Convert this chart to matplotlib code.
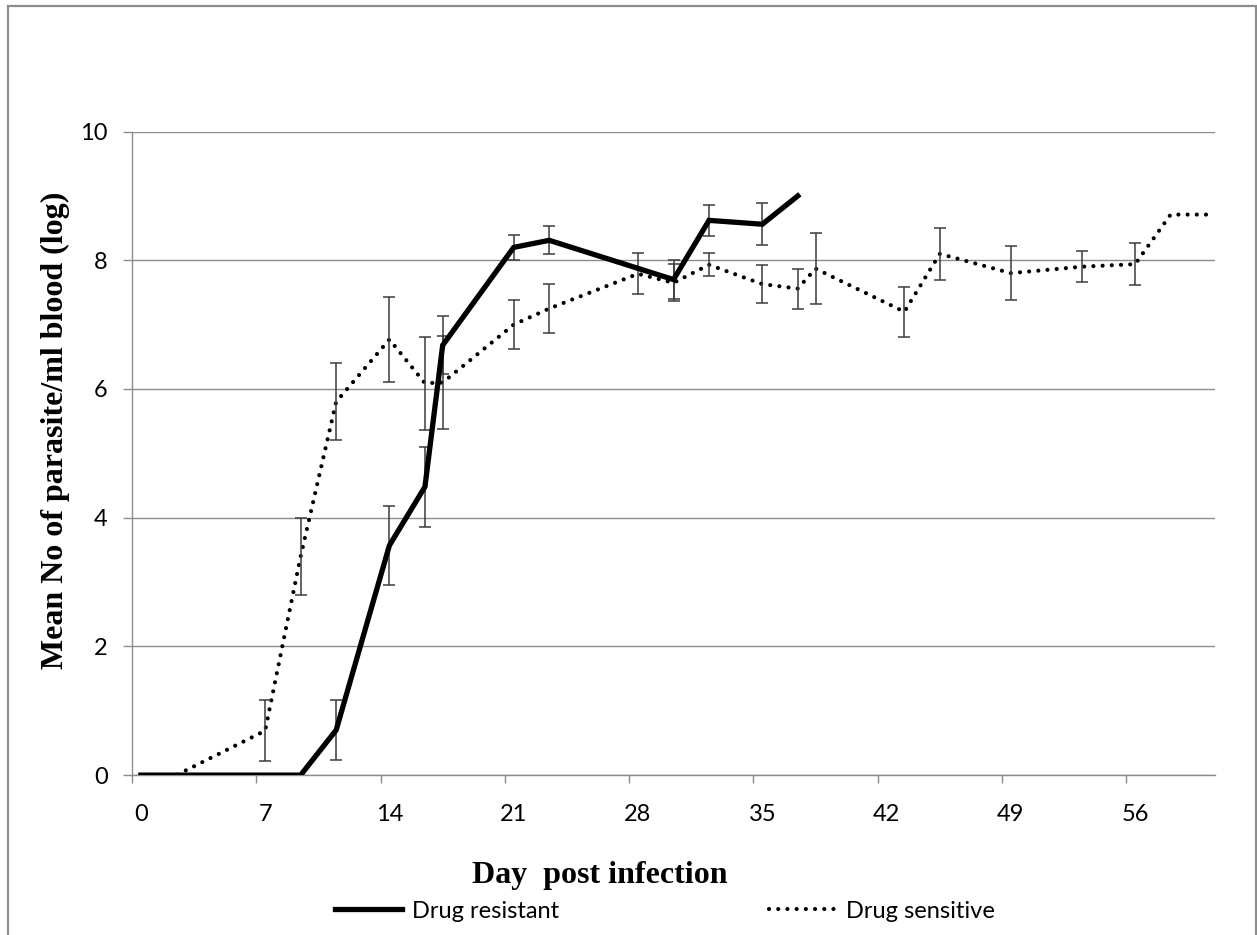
import numpy as np
import matplotlib
matplotlib.use("Agg")
import matplotlib.pyplot as plt
from matplotlib.patches import Rectangle

# Values (log parasites / ml blood)
resistant_days = [0, 9, 11, 14, 16, 17, 21, 23, 30, 32, 35, 37]
resistant_mean = [0, 0, 0.70, 3.57, 4.48, 6.68, 8.20, 8.31, 7.70, 8.62, 8.56, 9.00]
resistant_err = [0, 0, 0.47, 0.61, 0.62, 0.45, 0.19, 0.22, 0.30, 0.24, 0.33, 0]

sensitive_days = [0, 2, 7, 9, 11, 14, 16, 17, 21, 23, 28, 30, 32, 35, 37, 38,
                  43, 45, 49, 53, 56, 58, 60]
sensitive_mean = [0, 0, 0.69, 3.40, 5.80, 6.77, 6.09, 6.10, 7.00, 7.25, 7.79,
                  7.65, 7.93, 7.63, 7.56, 7.87, 7.20, 8.10, 7.80, 7.90, 7.94,
                  8.71, 8.71]
sensitive_err = [0, 0, 0.47, 0.60, 0.60, 0.66, 0.72, 0.72, 0.38, 0.38, 0.32,
                 0.29, 0.18, 0.30, 0.31, 0.55, 0.39, 0.40, 0.42, 0.24, 0.33,
                 0, 0]

day_ticks = [0, 7, 14, 21, 28, 35, 42, 49, 56]
y_ticks = [0, 2, 4, 6, 8, 10]

SANS = ["Lato", "DejaVu Sans"]
SERIF = ["Liberation Serif", "DejaVu Serif"]
GREY = "#8c8c8c"


def draw_errors(ax, days, mean, err, color):
    days = np.array(days)
    mean = np.array(mean)
    err = np.array(err)
    keep = err > 0
    ax.errorbar(days[keep], mean[keep], yerr=err[keep], fmt="none",
                ecolor=color, elinewidth=1.1, capsize=4, capthick=1.1,
                zorder=4)


def main():
    fig = plt.figure(figsize=(12.57, 9.35), dpi=100)
    ax = fig.add_axes([0.1050, 0.1710, 0.8616, 0.6883])

    # sensitive strain: dotted line
    ax.plot(sensitive_days, sensitive_mean, color="black", lw=3.0,
            linestyle=(0, (0.01, 2.2)), dash_capstyle="round",
            label="Drug sensitive", zorder=3)
    # resistant strain: thick solid line
    ax.plot(resistant_days, resistant_mean, color="black", lw=3.8,
            solid_joinstyle="miter", label="Drug resistant", zorder=5)

    draw_errors(ax, sensitive_days, sensitive_mean, sensitive_err, "#3c3c3c")
    draw_errors(ax, resistant_days, resistant_mean, resistant_err, "#3c3c3c")

    ax.set_xlim(-0.5, 60.5)
    ax.set_ylim(0, 10)

    # Excel style category axis: labels on days, ticks between categories
    ax.set_xticks(day_ticks)
    ax.set_xticklabels([str(d) for d in day_ticks], family=SANS, fontsize=17)
    ax.set_xticks([d - 0.5 for d in day_ticks], minor=True)
    ax.tick_params(axis="x", which="major", length=0, pad=21)
    ax.tick_params(axis="x", which="minor", length=6, width=1, color=GREY,
                   direction="out")

    ax.set_yticks(y_ticks)
    ax.set_yticklabels([str(v) for v in y_ticks], family=SANS, fontsize=17)
    ax.tick_params(axis="y", length=6.5, width=1, color=GREY, pad=11)

    ax.grid(axis="y", color=GREY, lw=1)
    ax.set_axisbelow(True)
    for side in ["top", "right"]:
        ax.spines[side].set_visible(False)
    for side in ["left", "bottom"]:
        ax.spines[side].set_color(GREY)
        ax.spines[side].set_linewidth(1)

    fig.text(0.044, 0.5396, "Mean No of parasite/ml blood (log)",
             rotation=90, ha="center", va="center", family=SERIF,
             fontweight="bold", fontsize=23)
    fig.text(0.4773, 0.0640, "Day  post infection", ha="center",
             va="center", family=SERIF, fontweight="bold", fontsize=23)

    handles, labels = ax.get_legend_handles_labels()
    fig.legend(handles[::-1], labels[::-1], loc="center left",
               bbox_to_anchor=(323.0 / 1257, 1 - 911 / 935), ncol=2,
               frameon=False, borderpad=0, handlelength=2.85,
               handletextpad=0.4, columnspacing=8.9,
               prop={"family": SANS, "size": 17})

    # chart area border
    fig.patches.append(Rectangle((8.3 / 1257, -0.02), 1247.5 / 1257,
                                 1.02 - 6 / 935, transform=fig.transFigure,
                                 fill=False, edgecolor=GREY, lw=1.6))

    fig.savefig("out.png", dpi=100)


if __name__ == "__main__":
    main()
